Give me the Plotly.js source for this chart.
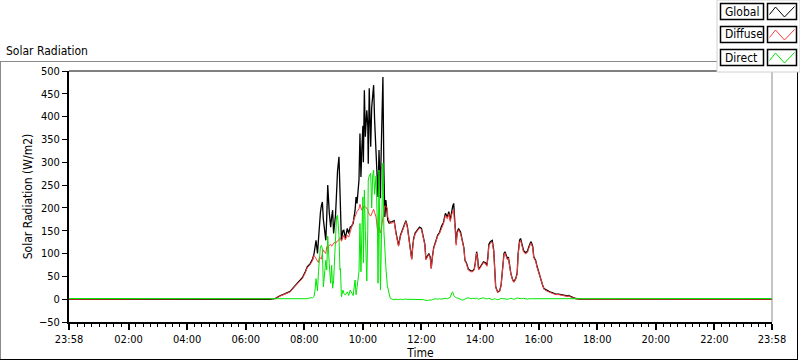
<!DOCTYPE html>
<html><head><meta charset="utf-8">
<script src="https://cdn.plot.ly/plotly-3.0.1.min.js"></script>
<style>html,body{margin:0;padding:0;background:#fff}#chart{width:800px;height:361px}</style>
</head><body><div id="chart"></div>
<script>
// ---------- DATA ----------
// first time belongs to the previous day (axis starts at 23:58 the day before)
const times = [
 "23:58","06:50","07:01","07:11","07:21","07:31","07:38","07:43","07:49","07:56","08:02","08:06","08:12","08:17",
 "08:20","08:22","08:24","08:27","08:29","08:31","08:33","08:35","08:37","08:39","08:41","08:44","08:46","08:48","08:51","08:54","08:56","08:58","09:00","09:02",
 "09:04","09:06","09:08","09:11","09:13","09:14","09:16","09:19","09:21","09:24","09:28","09:31","09:34","09:37","09:40","09:44","09:46","09:48","09:52","09:54",
 "09:56","09:58","10:00","10:01","10:03","10:05","10:08","10:10","10:11","10:13","10:16","10:18","10:20","10:22","10:24","10:27","10:30","10:31","10:33","10:36",
 "10:37","10:39","10:41","10:43","10:45","10:47","10:50","10:51","10:54","10:56",
 "11:00","11:04","11:08","11:13","11:17","11:21","11:25","11:28","11:31","11:35","11:38","11:40","11:42","11:44","11:47","11:52","11:56","12:00","12:04","12:07",
 "12:09","12:12","12:15","12:18","12:20","12:22","12:25","12:29","12:33","12:37","12:41","12:45","12:49","12:53","12:56","12:59","13:02","13:04","13:06","13:08",
 "13:10","13:11","13:13","13:16","13:20","13:24","13:27","13:29","13:32","13:36","13:41","13:45","13:48","13:50","13:51","13:53","13:55","13:57","14:00","14:03",
 "14:07","14:11","14:14","14:16","14:18","14:21","14:25","14:28","14:30","14:32","14:36","14:40","14:43","14:46","14:49","14:51","14:53","14:56","14:58","15:00",
 "15:03","15:06","15:09","15:13","15:16","15:18","15:21","15:23","15:25","15:29","15:33","15:37","15:40","15:44","15:46","15:48","15:50","15:54","15:57","16:01",
 "16:04","16:08","16:11","16:18","16:23","16:29","16:35","16:41","16:49","16:59","17:01","17:06","17:10","17:16","17:22","17:26","23:58"
];
const globalVals = [
 -0.5,-0.5,2,8,12,17,26,32,38,47,60,71,78,88,
 100,112,129,100,135,155,190,205,213,175,150,129,180,250,191,158,180,195,144,170,
 185,231,280,312,250,202,129,150,151,133,155,144,158,160,166,195,224,210,261,363,
 268,334,380,300,458,356,414,380,297,462,334,420,451,469,392,305,260,224,327,221,
 300,407,487,283,180,217,185,173,166,169,
 170,172,145,118,140,152,165,172,160,125,100,88,115,133,145,152,158,155,138,120,
 88,95,100,92,68,90,113,126,140,146,160,168,188,180,192,174,195,204,210,170,
 156,122,147,155,147,129,112,85,80,66,62,62,66,78,94,104,90,66,70,74,
 82,80,74,92,120,126,129,107,50,27,16,18,30,60,100,104,96,89,92,75,
 57,45,38,45,57,100,129,133,122,107,102,105,115,126,122,115,93,85,71,56,
 42,31,23,18,16,14,11,11,9,7,8,5,4,1.5,0,-0.5,-0.5
];
const diffuseVals = [
 0,0,1,7,11,16,25,30,36,45,58,69,76,85,
 96,92,88,84,80,92,90,88,100,108,104,100,115,112,118,120,116,120,124,125,
 122,126,128,130,132,135,127,138,140,130,140,136,145,158,170,182,188,192,198,208,
 200,195,198,200,205,203,200,196,192,186,182,188,192,197,190,180,150,148,158,145,
 150,165,182,195,205,203,200,180,172,166,
 167,170,142,116,138,150,162,170,158,123,100,87,113,131,143,150,156,153,136,118,
 86,94,98,90,67,88,111,124,138,144,157,165,184,176,187,170,186,190,196,162,
 150,118,143,152,144,126,110,84,78,64,60,60,64,76,91,101,87,64,68,72,
 80,78,72,89,117,122,125,104,49,26,15,17,29,58,97,101,93,86,90,73,
 56,44,37,44,55,97,125,129,119,104,99,102,112,123,119,112,91,83,69,55,
 41,30,22,17,15,13,10,10,8,6,7,4,3,1,0,0,0
];
const directVals = [
 1.5,1.5,1,2,1,2,1,2,1,2,2,1,3,3,
 6,20,45,18,60,90,115,118,110,27,60,85,64,138,78,35,74,24,40,78,
 122,180,184,140,64,67,5,20,13,9,16,8,20,12,8,42,10,25,60,166,
 60,150,224,80,239,150,40,150,261,270,276,200,270,283,230,270,150,35,283,20,
 100,200,298,150,100,71,30,24,8,2,
 0,-1,0,-1,0,-1,0,0,-1,0,-1,0,-1,0,-1,0,-1,0,-1,-2,
 -3,-3,-2,-3,-2,-1,0,1,0,1,0,1,2,1,3,4,14,16,8,5,
 4,3,3,2,-1,-2,-1,1,2,3,1,2,1,0,1,2,1,0,1,2,
 3,1,0,1,2,0,-1,0,1,0,-1,0,2,1,2,1,0,-1,0,1,
 2,1,0,1,3,2,1,0,1,2,1,0,1,2,1,1,1,1,1,1,
 1,1,1,2,1,1,1,2,2,1,2,2,1,1.5,1.5,1.5,1.5
];
const seriesNames = ["Global","Diffuse","Direct"];
const xTickLabels = ["23:58","02:00","04:00","06:00","08:00","10:00","12:00","14:00","16:00","18:00","20:00","22:00","23:58"];
const yTickVals = [-50,0,50,100,150,200,250,300,350,400,450,500];
const chartTitle = "Solar Radiation";
const yTitle = "Solar Radiation (W/m2)";
const xTitle = "Time";

// ---------- BUILD ----------
const PREV_DAY = "2024-05-31", DAY = "2024-06-01";
const toDate = (t, i) => (i === 0 ? PREV_DAY : DAY) + " " + t;
const xDates = times.map(toDate);
const tickDates = xTickLabels.map(toDate);

const FONT = '"DejaVu Sans Condensed", "Liberation Sans", Arial, sans-serif';
const colors = ["#000000", "#ff3c3c", "#00e600"];
const vals = [globalVals, diffuseVals, directVals];

const traces = vals.map((v, k) => ({
  type: "scatter", mode: "lines", x: xDates, y: v, name: seriesNames[k],
  line: {color: colors[k], width: k === 0 ? 1.3 : 1}, hoverinfo: "skip"
}));

// pixel -> paper helpers (layout geometry only)
const L = 69, R = 772, T = 71, B = 322;
const px = x => (x - L) / (R - L);
const py = y => (B - y) / (B - T);

const shapes = [
  // plot border top (black) and right (gray)
  {type:"line", xref:"paper", yref:"paper", x0:0, x1:1, y0:1, y1:1, line:{color:"#000", width:1}},
  {type:"line", xref:"paper", yref:"paper", x0:1, x1:1, y0:0, y1:1, line:{color:"#8a8a8a", width:1}},
  // outer frame
  {type:"line", xref:"paper", yref:"paper", x0:px(0), x1:px(717), y0:py(61.5), y1:py(61.5), line:{color:"#8a8a8a", width:1}},
  {type:"line", xref:"paper", yref:"paper", x0:px(0.5), x1:px(0.5), y0:py(61), y1:py(359.5), line:{color:"#8a8a8a", width:1}},
  {type:"line", xref:"paper", yref:"paper", x0:px(0), x1:px(798), y0:py(359.5), y1:py(359.5), line:{color:"#000", width:1}},
  {type:"line", xref:"paper", yref:"paper", x0:px(797.5), x1:px(797.5), y0:py(72), y1:py(359.5), line:{color:"#000", width:1}},
  // legend panel
  {type:"rect", xref:"paper", yref:"paper", x0:px(717), x1:px(800), y0:py(0), y1:py(72), fillcolor:"#fff", line:{color:"#d0d0d0", width:1}}
];
const annotations = [
  {xref:"paper", yref:"paper", x:px(4), y:py(51), xanchor:"left", yanchor:"middle", text:chartTitle, showarrow:false, font:{family:FONT, size:12, color:"#000"}}
];
const rowTops = [3.5, 26.5, 49.5];
seriesNames.forEach((n, k) => {
  const t = rowTops[k];
  shapes.push({type:"rect", xref:"paper", yref:"paper", x0:px(720.5), x1:px(763.5), y0:py(t), y1:py(t+16), fillcolor:"#fff", line:{color:"#000", width:1.5}});
  shapes.push({type:"rect", xref:"paper", yref:"paper", x0:px(767.5), x1:px(796.5), y0:py(t), y1:py(t+16), fillcolor:"#fff", line:{color:"#000", width:1.5}});
  const pts = [[769.5, t+11], [775.5, t+3.5], [784.5, t+13.5], [794.5, t+3]];
  shapes.push({type:"path", xref:"paper", yref:"paper",
    path: "M" + pts.map(p => px(p[0]) + "," + py(p[1])).join(" L"),
    line:{color: colors[k], width:1}});
  annotations.push({xref:"paper", yref:"paper", x:px(723), y:py(t+8), xanchor:"left", yanchor:"middle", text:n, showarrow:false, font:{family:FONT, size:12, color:"#000"}});
});

const layout = {
  width: 800, height: 361,
  margin: {l: L, r: 800 - R, t: T, b: 361 - B, pad: 0},
  paper_bgcolor: "#fff", plot_bgcolor: "#fff",
  showlegend: false,
  font: {family: FONT, size: 11, color: "#000"},
  xaxis: {
    type: "date", range: [tickDates[0], tickDates[tickDates.length - 1]],
    tickmode: "array", tickvals: tickDates, ticktext: xTickLabels,
    ticks: "outside", ticklen: 6, tickwidth: 2, tickcolor: "#000",
    showline: true, linecolor: "#000", linewidth: 2, showgrid: false, zeroline: false,
    minor: {dtick: 900000, tick0: DAY + " 00:00", ticks: "outside", ticklen: 3, tickwidth: 1, tickcolor: "#000", showgrid: false},
    tickfont: {family: FONT, size: 11, color: "#000"},
    title: {text: xTitle, standoff: 3, font: {family: FONT, size: 12, color: "#000"}},
    fixedrange: true
  },
  yaxis: {
    range: [-50, 500], tickmode: "array", tickvals: yTickVals,
    ticks: "outside", ticklen: 5, tickwidth: 1, tickcolor: "#000",
    showline: true, linecolor: "#000", linewidth: 2, showgrid: false, zeroline: false,
    tickfont: {family: FONT, size: 11, color: "#000"},
    title: {text: yTitle, standoff: 4, font: {family: FONT, size: 12, color: "#000"}},
    fixedrange: true
  },
  shapes: shapes,
  annotations: annotations
};

Plotly.newPlot("chart", traces, layout, {displayModeBar: false, staticPlot: true});
</script>
</body></html>
